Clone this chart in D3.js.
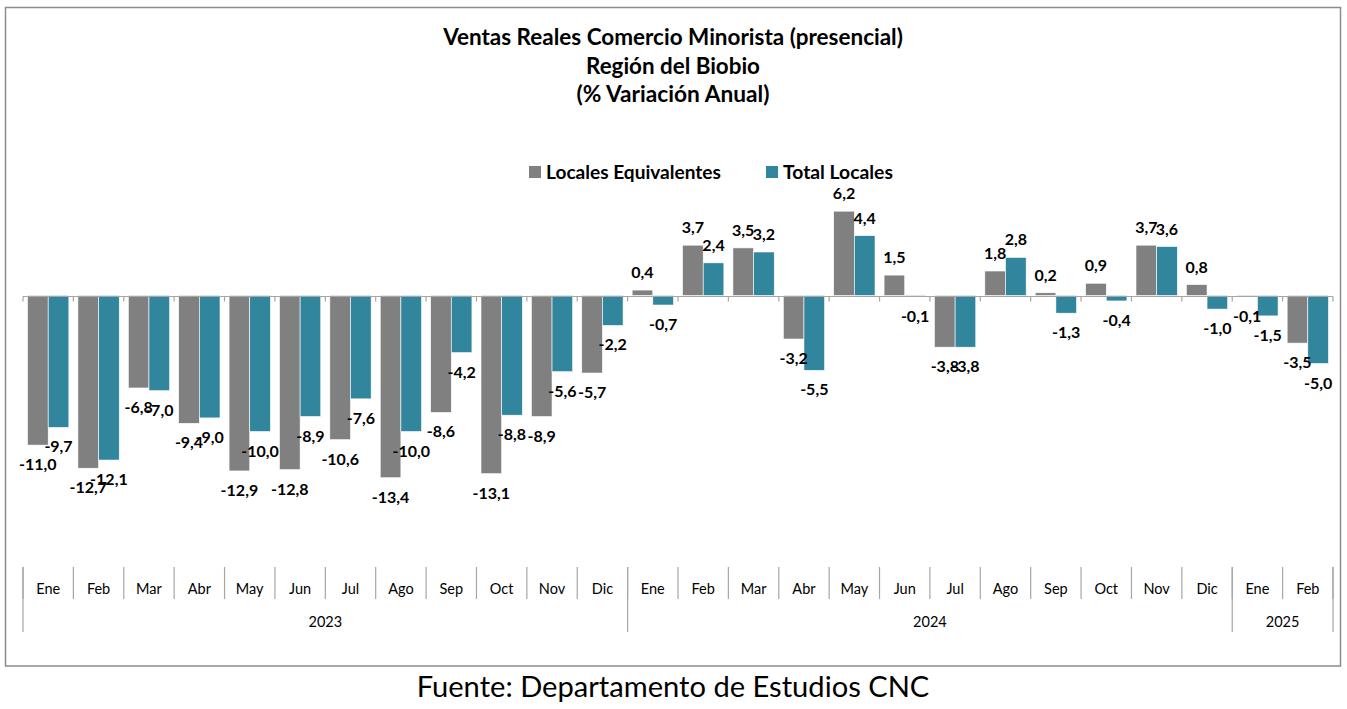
<!DOCTYPE html>
<html>
<head>
<meta charset="utf-8">
<script src="https://cdnjs.cloudflare.com/ajax/libs/d3/7.8.5/d3.min.js"></script>
<style>
  body { margin: 0; background: #fff; }
  svg { display: block; }
  text { font-family: Lato, "Noto Sans", sans-serif; fill: #000; }
</style>
</head>
<body>
<div id="chart"></div>
<script>
// datos
var meses = ["Ene","Feb","Mar","Abr","May","Jun","Jul","Ago","Sep","Oct","Nov","Dic",
             "Ene","Feb","Mar","Abr","May","Jun","Jul","Ago","Sep","Oct","Nov","Dic",
             "Ene","Feb"];
var anios = [{ label: "2023", n: 12 }, { label: "2024", n: 12 }, { label: "2025", n: 2 }];
var localesEquivalentes = [-11.0,-12.7,-6.8,-9.4,-12.9,-12.8,-10.6,-13.4,-8.6,-13.1,-8.9,-5.7,
                           0.4,3.7,3.5,-3.2,6.2,1.5,-3.8,1.8,0.2,0.9,3.7,0.8,
                           -0.1,-3.5];
var totalLocales = [-9.7,-12.1,-7.0,-9.0,-10.0,-8.9,-7.6,-10.0,-4.2,-8.8,-5.6,-2.2,
                    -0.7,2.4,3.2,-5.5,4.4,-0.1,-3.8,2.8,-1.3,-0.4,3.6,-1.0,
                    -1.5,-5.0];
var series = [
    { key: "le", name: "Locales Equivalentes", color: "#808080", values: localesEquivalentes },
    { key: "tl", name: "Total Locales", color: "#31859C", values: totalLocales }
];
var titulo = ["Ventas Reales Comercio Minorista (presencial)", "Región del Biobio", "(% Variación Anual)"];
var fuente = "Fuente: Departamento de Estudios CNC";

var width = 1347, height = 709;
var svg = d3.select("#chart").append("svg")
    .attr("width", width).attr("height", height);

// marco
svg.append("rect")
    .attr("x", 5.5).attr("y", 7.5)
    .attr("width", 1335).attr("height", 658.5)
    .attr("fill", "#fff").attr("stroke", "#8c8c8c").attr("stroke-width", 1.5);

// ajusta el ancho del texto al de la imagen
function fitText(sel, target) {
    var w = sel.node().getComputedTextLength();
    var fs = parseFloat(sel.attr("font-size"));
    sel.attr("font-size", fs * target / w);
}

// titulo
var tW = [460, 174, 193];
var tY = [45, 73.5, 101.5];
titulo.forEach(function (t, i) {
    var tx = svg.append("text")
        .attr("x", 673).attr("y", tY[i])
        .attr("text-anchor", "middle")
        .attr("font-weight", "bold")
        .attr("font-size", 19)
        .text(t);
    fitText(tx, tW[i]);
});

// escalas
var idx = d3.range(meses.length);
var x0 = d3.scaleBand().domain(idx).range([23, 1333]).paddingInner(0.18).paddingOuter(0.09);
var x1 = d3.scaleBand().domain(series.map(function (s) { return s.key; })).range([0, x0.bandwidth()]);
var y = d3.scaleLinear().domain([-20, 8]).range([567.5, 186.7]);
var step = x0.step();
var left = 23;

// barras
var g = svg.append("g");
series.forEach(function (s) {
    g.selectAll(".bar-" + s.key)
        .data(s.values)
        .enter().append("rect")
        .attr("class", "bar-" + s.key)
        .attr("x", function (d, i) { return x0(i) + x1(s.key); })
        .attr("width", x1.bandwidth())
        .attr("y", function (d) { return y(Math.max(0, d)); })
        .attr("height", function (d) { return Math.abs(y(d) - y(0)); })
        .attr("fill", s.color)
        .attr("stroke", "#fff").attr("stroke-width", 0.6);
});

// linea cero
var y0 = Math.round(y(0)) + 0.5;
svg.append("line")
    .attr("x1", left).attr("x2", left + step * meses.length)
    .attr("y1", y0).attr("y2", y0)
    .attr("stroke", "#a6a6a6").attr("stroke-width", 1.2);
svg.selectAll(".tick0")
    .data(d3.range(meses.length + 1))
    .enter().append("line")
    .attr("x1", function (i) { return left + i * step; })
    .attr("x2", function (i) { return left + i * step; })
    .attr("y1", y0).attr("y2", y0 + 5)
    .attr("stroke", "#a6a6a6").attr("stroke-width", 1.2);

// etiquetas de datos
var fmt = function (v) { return d3.format(".1f")(v).replace("\u2212", "-").replace(".", ","); };
series.forEach(function (s) {
    g.selectAll(".lab-" + s.key)
        .data(s.values)
        .enter().append("text")
        .attr("x", function (d, i) { return x0(i) + x1(s.key) + x1.bandwidth() / 2; })
        .attr("y", function (d) { return d >= 0 ? y(d) - 12 : y(d) + 25; })
        .attr("text-anchor", "middle")
        .attr("font-weight", "bold")
        .attr("font-size", 16)
        .text(fmt);
});

// eje de categorias (tabla)
var axTop = 567;
svg.selectAll(".sep")
    .data(d3.range(meses.length + 1))
    .enter().append("line")
    .attr("x1", function (i) { return left + i * step; })
    .attr("x2", function (i) { return left + i * step; })
    .attr("y1", axTop).attr("y2", axTop + 32)
    .attr("stroke", "#a6a6a6").attr("stroke-width", 1.2);
svg.selectAll(".mes")
    .data(meses)
    .enter().append("text")
    .attr("x", function (d, i) { return left + (i + 0.5) * step; })
    .attr("y", 594)
    .attr("text-anchor", "middle")
    .attr("font-size", 14.5)
    .text(function (d) { return d; });

var acc = 0;
var bounds = [0];
anios.forEach(function (a) { acc += a.n; bounds.push(acc); });
svg.selectAll(".sepAnio")
    .data(bounds)
    .enter().append("line")
    .attr("x1", function (b) { return left + b * step; })
    .attr("x2", function (b) { return left + b * step; })
    .attr("y1", axTop).attr("y2", axTop + 65)
    .attr("stroke", "#a6a6a6").attr("stroke-width", 1.2);
svg.selectAll(".anio")
    .data(anios)
    .enter().append("text")
    .attr("x", function (a, i) { return left + (bounds[i] + a.n / 2) * step; })
    .attr("y", 627)
    .attr("text-anchor", "middle")
    .attr("font-size", 14.5)
    .text(function (a) { return a.label; });

// leyenda
var legX = [529, 766];
var legW = [175, 110];
series.forEach(function (s, i) {
    svg.append("rect")
        .attr("x", legX[i]).attr("y", 166)
        .attr("width", 12).attr("height", 12)
        .attr("fill", s.color);
    var lt = svg.append("text")
        .attr("x", legX[i] + 17).attr("y", 179)
        .attr("font-weight", "bold")
        .attr("font-size", 17)
        .text(s.name);
    fitText(lt, legW[i]);
});

// fuente
var ft = svg.append("text")
    .attr("x", 673).attr("y", 697)
    .attr("text-anchor", "middle")
    .attr("font-size", 28)
    .text(fuente);
fitText(ft, 513);
</script>
</body>
</html>
